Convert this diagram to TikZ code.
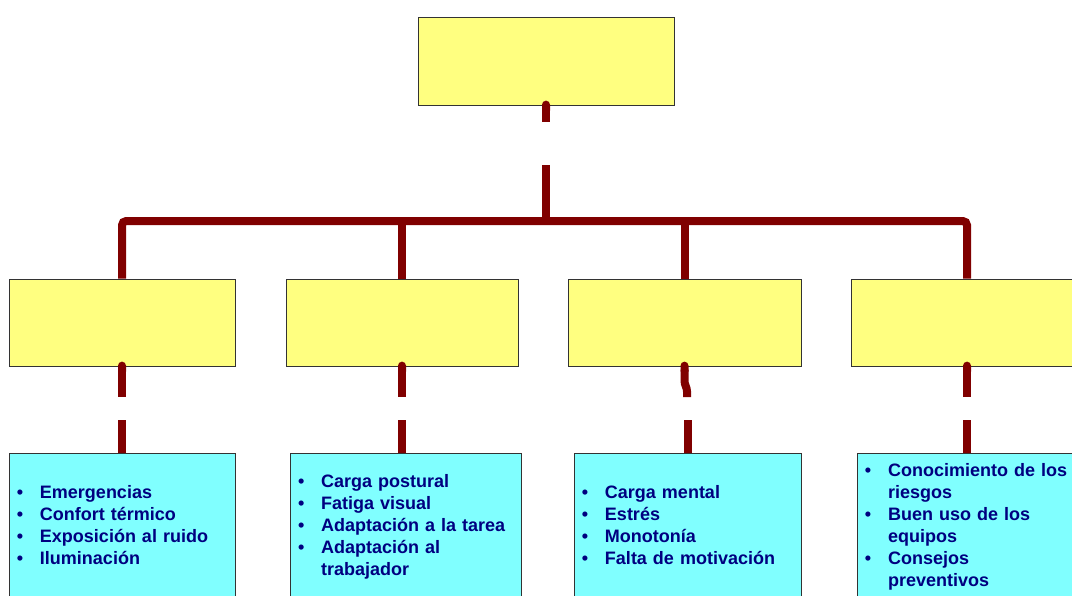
\documentclass[tikz,border=0pt]{standalone}
\usepackage{fontspec}
\newfontfamily\arialfont{Liberation Sans}
\usepackage{xcolor}
\usetikzlibrary{arrows.meta,positioning}

\definecolor{linkred}{RGB}{128,0,0}
\definecolor{boxyellow}{RGB}{255,255,128}
\definecolor{boxcyan}{RGB}{128,255,255}
\definecolor{itemblue}{RGB}{0,0,128}

\newenvironment{bulletrows}{\vspace*{-2.8pt}\noindent\begin{tabular}{@{}l@{\hspace{11.9pt}}l@{}}}{\end{tabular}}

\begin{document}
\begin{tikzpicture}[x=0.025cm, y=-0.025cm,
    headbox/.style={draw=black!80, line width=0.6pt, fill=boxyellow},
    listbox/.style={draw=black!80, line width=0.6pt, fill=boxcyan, minimum height=3.6cm,
        inner xsep=5.7pt, align=left, text=itemblue,
        font=\arialfont\bfseries\fontsize{12.8}{15.65}\selectfont},
    link/.style={linkred, line width=0.2cm}]
    \useasboundingbox (0,0) rectangle (1072,595);
    \clip (0,0) rectangle (1072,595);

    % top box
    \node[headbox, minimum width=6.4cm, minimum height=2.2cm] (top) at (546,61) {};

    % second row
    \node[headbox, minimum width=5.65cm, minimum height=2.175cm] (a1) at (122,322.5) {};
    \node[headbox, minimum width=5.8cm, minimum height=2.175cm] (a2) at (402,322.5) {};
    \node[headbox, minimum width=5.825cm, minimum height=2.175cm] (a3) at (684.5,322.5) {};
    \node[headbox, minimum width=5.8cm, minimum height=2.175cm] (a4) at (967,322.5) {};

    % lists
    \node[listbox, text width=149.4pt] (b1) at (122,525) {\begin{bulletrows}
        \textbullet & Emergencias\\
        \textbullet & Confort térmico\\
        \textbullet & Exposición al ruido\\
        \textbullet & Iluminación
    \end{bulletrows}};
    \node[listbox, text width=152.9pt] (b2) at (405.5,525) {\begin{bulletrows}
        \textbullet & Carga postural\\
        \textbullet & Fatiga visual\\
        \textbullet & Adaptación a la tarea\\
        \textbullet & Adaptación al\\
                    & trabajador
    \end{bulletrows}};
    \node[listbox, text width=150.1pt] (b3) at (687.5,525) {\begin{bulletrows}
        \textbullet & Carga mental\\
        \textbullet & Estrés\\
        \textbullet & Monotonía\\
        \textbullet & Falta de motivación
    \end{bulletrows}};
    \node[listbox, text width=145.1pt] (b4) at (967,525) {\begin{bulletrows}
        \textbullet & Conocimiento de los\\
                    & riesgos\\
        \textbullet & Buen uso de los\\
                    & equipos\\
        \textbullet & Consejos\\
                    & preventivos
    \end{bulletrows}};

    % levels of the cut connectors
    \coordinate (bar) at (546,221);
    \coordinate (cut1) at (0,122);
    \coordinate (res1) at (0,165);
    \coordinate (cut2) at (0,397);
    \coordinate (res2) at (0,420);

    % top to bar
    \draw[link, {Round Cap[]}-] ([yshift=0.12cm]top.south) -- (top.south |- cut1);
    \draw[link] (top.south |- res1) -- (top.south |- bar);

    % bar
    \draw[link, rounded corners=3pt] (a1.north) |- (bar) -| (a4.north);
    \draw[link] (a2.north) -- (a2.north |- bar);
    \draw[link] (a3.north) -- (a3.north |- bar);

    % second row to lists
    \foreach \n in {1,2,4} {
        \draw[link, {Round Cap[]}-] ([yshift=0.12cm]a\n.south) -- (a\n.south |- cut2);
        \draw[link] (a\n.south |- res2) -- (a\n.south |- b\n.north);
    }
    \draw[link, {Round Cap[]}-, rounded corners=2pt] ([yshift=0.12cm]a3.south) -- ++(0,22) -- ++(2.5,5) -- ++(0,8.5);
    \draw[link] (b3.north |- res2) -- (b3.north);
\end{tikzpicture}
\end{document}
